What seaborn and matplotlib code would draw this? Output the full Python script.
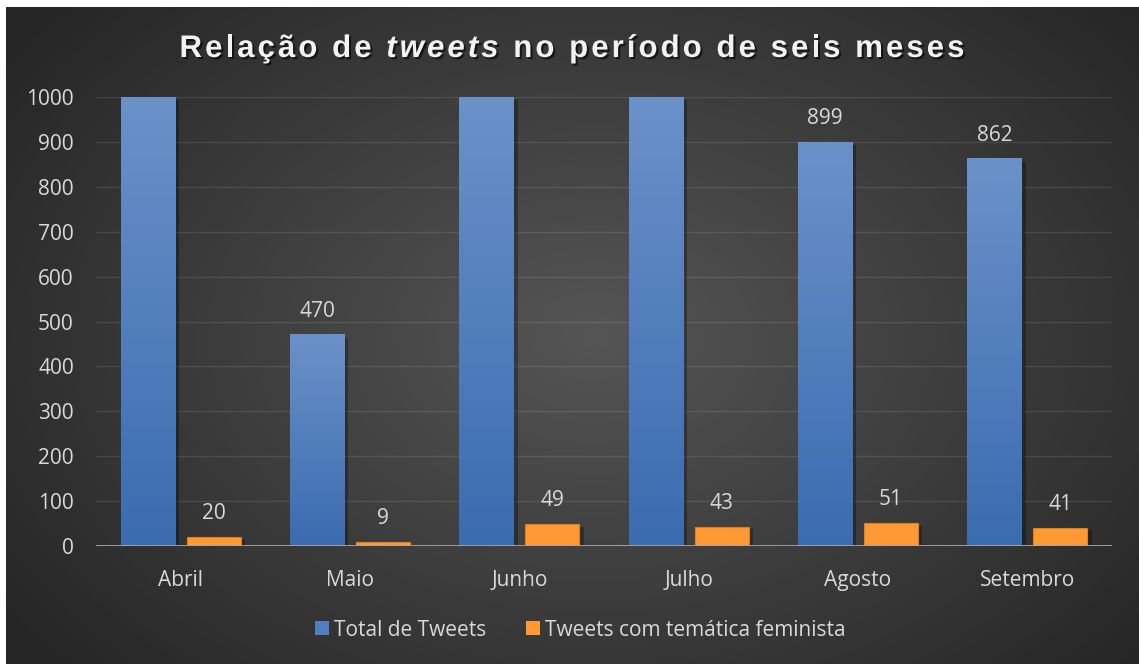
"""
Relação de tweets no período de seis meses — gráfico de barras agrupadas
(recriação em seaborn, estilo escuro com gradiente).
"""

import numpy as np
import pandas as pd
import matplotlib.pyplot as plt
import matplotlib.patheffects as pe
from matplotlib.colors import LinearSegmentedColormap
from matplotlib.font_manager import FontProperties
from matplotlib.patches import Patch
from matplotlib.textpath import text_to_path
import seaborn as sns


# ---------------------------------------------------------------------------
# Dados
# ---------------------------------------------------------------------------

meses = ['Abril', 'Maio', 'Junho', 'Julho', 'Agosto', 'Setembro']
# Abril, Junho e Julho passam do limite do eixo (cortadas em 1000, sem rótulo)
total_tweets = [1000, 470, 1000, 1000, 899, 862]
tweets_feministas = [20, 9, 49, 43, 51, 41]
serie_total = 'Total de Tweets'
serie_fem = 'Tweets com temática feminista'
y_ticks = [0, 100, 200, 300, 400, 500, 600, 700, 800, 900, 1000]

AZUL = '#4f7fc0'
AZUL_TOPO = '#6b91c9'
AZUL_BASE = '#3a6cb0'
LARANJA = '#ff9933'
TEXTO = '#d9d9d9'
W, H = 1139, 664


def titulo_espacado(fig, partes, x_centro, y_base, largura_alvo, tamanho):
    """Desenha o título letra a letra, com espaçamento extra entre caracteres."""
    itens = [(c, estilo) for texto, estilo in partes for c in texto]

    def avanco(c, estilo):
        prop = FontProperties(family='Liberation Sans', weight='bold',
                              style=estilo, size=tamanho)
        w_ref = text_to_path.get_text_width_height_descent('HH', prop, ismath=False)[0]
        w = text_to_path.get_text_width_height_descent('H' + c + 'H', prop, ismath=False)[0]
        return (w - w_ref) * fig.dpi / 72

    avancos = [avanco(c, e) for c, e in itens]
    extra = (largura_alvo - sum(avancos)) / (len(itens) - 1)
    x = x_centro - largura_alvo / 2
    sombra = [pe.SimplePatchShadow(offset=(1.5, -1.5), shadow_rgbFace='black', alpha=0.6),
              pe.Normal()]
    for (c, estilo), adv in zip(itens, avancos):
        if c != ' ':
            fig.text(x / W, 1 - y_base / H, c, ha='left', va='baseline',
                     family='Liberation Sans', weight='bold', style=estilo,
                     fontsize=tamanho, color='#f2f2f2', path_effects=sombra)
        x += adv + extra


# ---------------------------------------------------------------------------
# Figura
# ---------------------------------------------------------------------------

sns.set_theme(style='dark')
plt.rcParams['font.family'] = ['Open Sans', 'DejaVu Sans']

df = pd.DataFrame({
    'mes': meses * 2,
    'serie': [serie_total] * len(meses) + [serie_fem] * len(meses),
    'valor': total_tweets + tweets_feministas,
})

fig = plt.figure(figsize=(W / 100, H / 100), dpi=100, facecolor='white')

# Fundo com gradiente radial (borda branca fina em cima e à esquerda)
bg = fig.add_axes([6 / W, 0, 1 - 6 / W, 1 - 7 / H], zorder=-2)
yy, xx = np.mgrid[0:1:400j, 0:1:700j]
dist = np.sqrt(((xx - 0.52) / 0.52) ** 2 + ((yy - 0.5) / 0.62) ** 2) / np.sqrt(2)
fundo = LinearSegmentedColormap.from_list('fundo', ['#555555', '#262626'])
bg.imshow(np.clip(dist * 1.15, 0, 1), cmap=fundo, aspect='auto', extent=[0, 1, 0, 1])
bg.set_axis_off()

ax = fig.add_axes([96 / W, 1 - 546 / H, (1112 - 96) / W, (546 - 97) / H])
ax.set_facecolor('none')

sns.barplot(data=df, x='mes', y='valor', hue='serie', palette=[AZUL, LARANJA],
            width=0.78, gap=0.18, saturation=1, errorbar=None, legend=False, ax=ax)

# Gradiente vertical nas barras azuis + sombra leve
grad = np.linspace(0, 1, 256).reshape(-1, 1)
cmap_azul = LinearSegmentedColormap.from_list('azul', [AZUL_BASE, AZUL_TOPO])
sombra_barra = [pe.SimplePatchShadow(offset=(3, -2), shadow_rgbFace='black', alpha=0.3),
                pe.Normal()]
for bar in ax.containers[0]:
    bar.set_linewidth(0)
    x0, y0 = bar.get_xy()
    ax.imshow(grad, extent=[x0, x0 + bar.get_width(), y0, y0 + bar.get_height()],
              origin='lower', aspect='auto', cmap=cmap_azul, zorder=bar.get_zorder() + 0.1)
    bar.set_path_effects(sombra_barra)
for bar in ax.containers[1]:
    bar.set_edgecolor('#e07e1c')
    bar.set_linewidth(0.8)
    bar.set_path_effects(sombra_barra)

ax.set_xlim(-0.5, len(meses) - 0.5)
ax.set_ylim(0, 1000)

# Rótulos de dados (só para as barras que cabem no eixo)
for cont in ax.containers:
    for bar in cont:
        v = bar.get_height()
        if v < 1000:
            ax.annotate(f'{v:.0f}', (bar.get_x() + bar.get_width() / 2, v),
                        xytext=(0, 13), textcoords='offset points',
                        ha='center', va='baseline', fontsize=15, color=TEXTO, zorder=6)

ax.set_yticks(y_ticks)
ax.set_xlabel('')
ax.set_ylabel('')
ax.yaxis.grid(True, color='white', alpha=0.1, linewidth=1)
ax.xaxis.grid(False)
ax.set_axisbelow(True)
for s in ax.spines.values():
    s.set_visible(False)
ax.axhline(0, color='#a6a6a6', linewidth=2, zorder=5)
ax.tick_params(axis='both', length=0, labelsize=15, labelcolor=TEXTO)
ax.tick_params(axis='y', pad=16)
ax.tick_params(axis='x', pad=17)

fig.legend([Patch(facecolor=AZUL, edgecolor='none'), Patch(facecolor=LARANJA, edgecolor='none')],
           [serie_total, serie_fem],
           loc='center', bbox_to_anchor=(580 / W, 1 - 630 / H), ncol=2, frameon=False,
           fontsize=15, labelcolor=TEXTO, handlelength=0.67, handleheight=0.67,
           handletextpad=0.25, columnspacing=1.9)

titulo_espacado(fig, [('Relação de ', 'normal'), ('tweets', 'italic'),
                      (' no período de seis meses', 'normal')],
                x_centro=572, y_base=57, largura_alvo=785, tamanho=22.5)

fig.savefig('out.png', dpi=100, facecolor='white')
